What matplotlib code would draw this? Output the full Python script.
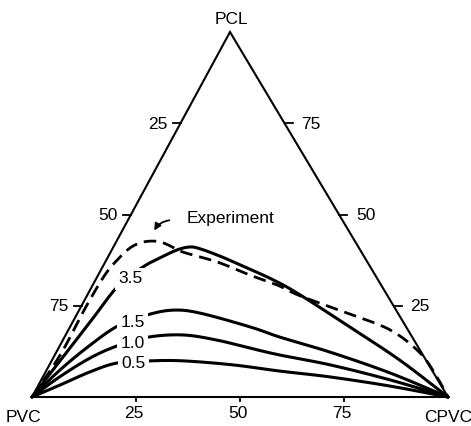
import numpy as np
import matplotlib
matplotlib.use('Agg')
import matplotlib.pyplot as plt

plt.rcParams['font.family'] = ['Liberation Sans', 'DejaVu Sans']

# 組成 (wt%): PCL 與 CPVC，其餘為 PVC
curve_labels = ['0.5', '1.0', '1.5', '3.5']
pcl_05 = [0, 3.3, 6.9, 9.3, 9.9, 9.9, 8.8, 7.1, 5.5, 3.0, 0]
cpvc_05 = [0, 5.2, 10.7, 16.0, 23.7, 31.6, 44.1, 56.2, 69.0, 84.6, 100]
pcl_10 = [0, 5.5, 10.7, 14.0, 16.4, 17.0, 15.6, 13.4, 11.5, 8.8, 4.7, 0]
cpvc_10 = [0, 4.0, 8.9, 13.8, 20.1, 28.2, 37.0, 46.0, 54.1, 67.5, 83.8, 100]
pcl_15 = [0, 7.4, 14.2, 19.5, 22.5, 23.8, 23.0, 19.2, 16.4, 12.3, 6.6, 0]
cpvc_15 = [0, 3.2, 7.2, 11.4, 17.0, 22.6, 29.4, 43.3, 51.8, 65.8, 82.9, 100]
pcl_35 = [0, 9.9, 20.6, 30.4, 35.6, 38.1, 40.3, 41.1, 40.6, 38.6, 36.2, 32.1, 28.0, 19.7, 10.1, 0]
cpvc_35 = [0, 2.0, 4.2, 6.2, 9.7, 12.6, 15.7, 18.4, 21.1, 26.8, 32.8, 42.7, 51.1, 66.3, 83.6, 100]
pcl_exp = [0, 11.5, 24.7, 33.4, 37.5, 40.8, 42.2, 42.7, 42.5, 41.4, 39.7, 37.0, 33.4, 30.7, 27.7,
           23.0, 18.4, 12.1, 5.5, 0]
cpvc_exp = [0, 1.3, 1.2, 1.6, 2.6, 4.1, 5.9, 8.0, 10.6, 13.5, 17.4, 26.9, 36.5, 44.3, 51.3,
            64.8, 77.3, 87.5, 94.7, 100]
ticks = [25, 50, 75]

# 三角形頂點 (圖上座標)
V_PVC = np.array([32.0, 397.0])
V_CPVC = np.array([448.0, 397.0])
V_PCL = np.array([230.0, 32.0])


def tern(pcl, cpvc):
    pcl = np.asarray(pcl, float) / 100
    cpvc = np.asarray(cpvc, float) / 100
    pvc = 1 - pcl - cpvc
    pts = np.outer(pvc, V_PVC) + np.outer(cpvc, V_CPVC) + np.outer(pcl, V_PCL)
    return pts[:, 0], pts[:, 1]


def smooth(x, y, n=12):
    # Catmull-Rom 曲線, 只用於畫線
    p = np.column_stack([x, y])
    p = np.vstack([2 * p[0] - p[1], p, 2 * p[-1] - p[-2]])
    out = []
    t = np.linspace(0, 1, n, endpoint=False)[:, None]
    for i in range(1, len(p) - 2):
        p0, p1, p2, p3 = p[i - 1], p[i], p[i + 1], p[i + 2]
        seg = 0.5 * ((2 * p1) + (-p0 + p2) * t + (2 * p0 - 5 * p1 + 4 * p2 - p3) * t ** 2
                     + (-p0 + 3 * p1 - 3 * p2 + p3) * t ** 3)
        out.append(seg)
    out.append(p[-2][None, :])
    out = np.vstack(out)
    return out[:, 0], out[:, 1]


fig = plt.figure(figsize=(4.71, 4.26), dpi=100)
ax = fig.add_axes([0, 0, 1, 1])
ax.set_xlim(0, 471)
ax.set_ylim(426, 0)
ax.axis('off')

fs = 12.5
# 三角形
tri = np.array([V_PVC, V_CPVC, V_PCL, V_PVC])
ax.plot(tri[:, 0], tri[:, 1], color='black', lw=1.5, solid_joinstyle='miter')

# 刻度
for t in ticks:
    # 左邊 (PVC)
    x, y = tern([100 - t], [0])
    ax.plot([x[0] - 8, x[0]], [y[0], y[0]], color='black', lw=1.3)
    ax.text(x[0] - 13, y[0] + 1, str(t), ha='right', va='center', fontsize=fs)
    # 右邊 (PCL)
    x, y = tern([t], [100 - t])
    ax.plot([x[0], x[0] + 8], [y[0], y[0]], color='black', lw=1.3)
    ax.text(x[0] + 17, y[0] + 1, str(t), ha='left', va='center', fontsize=fs)
    # 底邊 (CPVC)
    x, y = tern([0], [t])
    ax.plot([x[0], x[0]], [y[0], y[0] + 4], color='black', lw=1.3)
    ax.text(x[0] - 2, y[0] + 17, str(t), ha='center', va='center', fontsize=fs)

ax.text(V_PVC[0] - 9, V_PVC[1] + 20, 'PVC', ha='center', va='center', fontsize=fs)
ax.text(V_CPVC[0], V_CPVC[1] + 20, 'CPVC', ha='center', va='center', fontsize=fs)
ax.text(V_PCL[0] + 1, V_PCL[1] - 12, 'PCL', ha='center', va='center', fontsize=fs)

# 計算曲線
series = [(pcl_05, cpvc_05), (pcl_10, cpvc_10), (pcl_15, cpvc_15), (pcl_35, cpvc_35)]
label_at = [3, 3, 3, 3]
for lab, (p, c), k in zip(curve_labels, series, label_at):
    x, y = tern(p, c)
    sx, sy = smooth(x, y)
    ax.plot(sx, sy, color='black', lw=2.2, solid_capstyle='round', solid_joinstyle='round')
    lx = (x[k] + x[k + 1]) / 2
    ly = (y[k] + y[k + 1]) / 2
    ax.text(lx, ly + 2, lab, ha='center', va='center', fontsize=fs,
            bbox=dict(boxstyle='square,pad=0.2', fc='white', ec='none'))

# 實驗曲線
x, y = tern(pcl_exp, cpvc_exp)
sx, sy = smooth(x, y)
ax.plot(sx, sy, color='black', lw=2.0, dashes=(4.5, 2.5))

ax.text(231, 218, 'Experiment', ha='center', va='center', fontsize=fs)
ax.annotate('', xy=(153, 233), xytext=(172, 220),
            arrowprops=dict(arrowstyle='-|>', color='black', lw=1.3,
                            connectionstyle='arc3,rad=0.3', mutation_scale=10))

fig.savefig('out.png', dpi=100)
